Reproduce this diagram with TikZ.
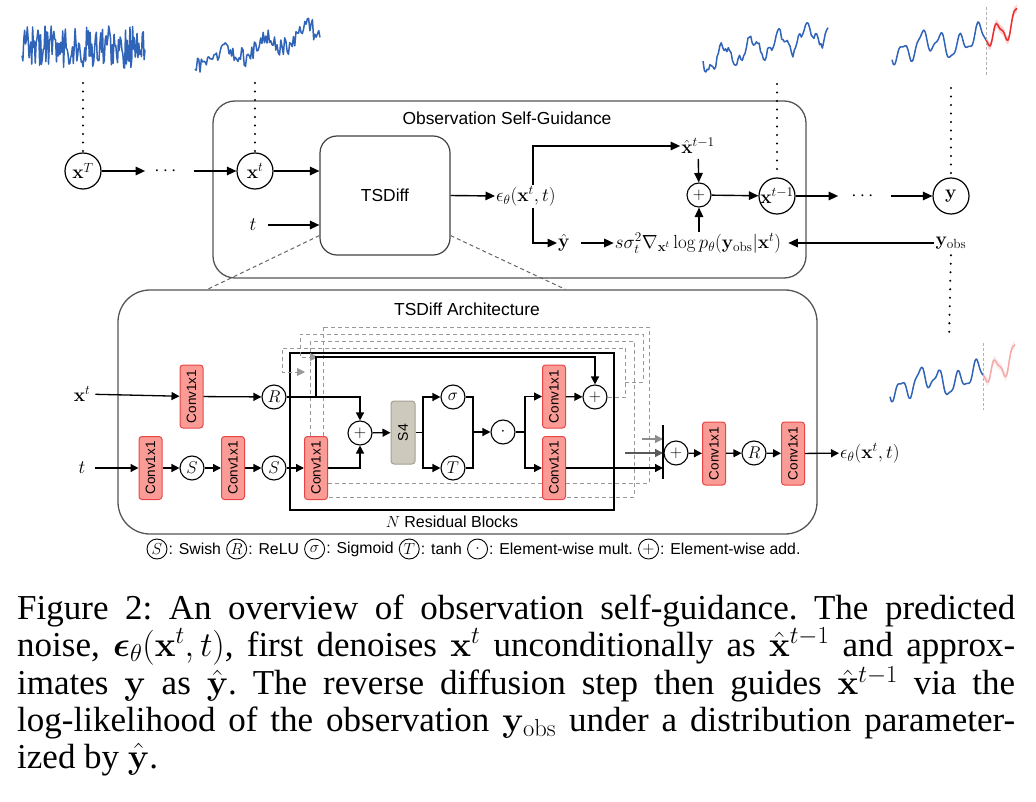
\RequirePackage{fix-cm}
\documentclass[tikz,border=0pt]{standalone}
\usepackage{amsmath}
\usepackage{amssymb}
\usepackage[no-math]{fontspec}
\newfontfamily\sfl{Liberation Sans}
\newfontfamily\capfont{Liberation Serif}
\usetikzlibrary{
  arrows.meta,
  positioning
}
\definecolor{convfill}{RGB}{250,155,150}
\definecolor{convline}{RGB}{232,70,70}
\definecolor{s4fill}{RGB}{205,201,189}
\definecolor{s4line}{RGB}{165,160,145}
\definecolor{tsblue}{RGB}{48,100,184}
\definecolor{tsred}{RGB}{235,45,45}
\definecolor{tsredlight}{RGB}{245,170,170}
\definecolor{boxgray}{RGB}{85,85,85}
\newcommand{\convtxt}{\rotatebox{90}{Conv1x1}}
\pgfmathdeclarefunction{obsf}{1}{\pgfmathparse{-0.1*#1+10*sin(19*#1+60)+6*sin(7*#1+20)+3*sin(41*#1)}}

\begin{document}
\begin{tikzpicture}[x=1pt, y=-1pt,
  >={Triangle[length=9.5pt,width=8.5pt]},
  conn/.style={->, line width=1.4pt},
  lbl/.style={font=\sfl\fontsize{17.4}{20}\selectfont},
  mth/.style={font=\fontsize{19}{22}\selectfont, inner sep=1pt},
  varnode/.style={circle, draw, line width=1.2pt, fill=white,
    minimum size=36pt, inner sep=0pt, font=\fontsize{19}{22}\selectfont},
  opnode/.style={circle, draw, line width=1.1pt, fill=white,
    minimum size=24pt, inner sep=0pt, font=\fontsize{17}{20}\selectfont},
  convbox/.style={draw=convline, fill=convfill, line width=1pt,
    rounded corners=3pt, minimum width=23pt, minimum height=63pt,
    inner sep=0pt, font=\sfl\fontsize{13.5}{16}\selectfont},
  s4box/.style={draw=s4line, fill=s4fill, line width=1pt,
    rounded corners=3pt, minimum width=24pt, minimum height=63pt,
    inner sep=0pt, font=\sfl\fontsize{14}{16}\selectfont},
  ghost/.style={draw=black!40, line width=1pt, dash pattern=on 4pt off 3pt},
  linkdash/.style={draw=black!60, line width=1pt, dash pattern=on 4pt off 3pt},
  dotline/.style={line width=2.3pt, line cap=round, dash pattern=on 0pt off 8.5pt},
  series/.style={draw=tsblue, line width=1.5pt, line join=round},
  legcirc/.style={circle, draw, line width=0.9pt, minimum size=20pt,
    inner sep=0pt, font=\fontsize{16}{18}\selectfont},
  legtxt/.style={inner xsep=1pt, inner ysep=0pt, font=\sfl\fontsize{15.8}{18}\selectfont}]
\useasboundingbox (0,0) rectangle (1036,802);

% time series
\pgfmathsetseed{3}
\draw[series] plot[domain=22:145, samples=140] (\x, {47+21*rand});
\draw[series] plot[domain=0:125, samples=100] (\x+195, {62-0.25*\x+8*sin(9*\x)+10*rand});
\draw[series] plot[domain=0:125, samples=90] (\x+703, {62-0.25*\x+10*sin(13*\x)+5*sin(37*\x)+3*rand});
\begin{scope}[shift={(892,49)}]
  \fill[tsred!35, opacity=.6] plot[smooth, domain=94:125, samples=25] (\x, {obsf(\x)-0.7*(\x-94)-4})
    -- plot[smooth, domain=125:94, samples=25] (\x, {obsf(\x)-0.7*(\x-94)+4}) -- cycle;
  \draw[series] plot[smooth, domain=0:94, samples=60] (\x, {obsf(\x)});
  \draw[series, draw=tsred] plot[smooth, domain=94:125, samples=25] (\x, {obsf(\x)-0.7*(\x-94)});
  \draw[black!30, line width=0.8pt, dash pattern=on 3pt off 2pt] (94,-42) -- (94,26);
\end{scope}
\begin{scope}[shift={(890,386)}]
  \fill[tsred!15, opacity=.6] plot[smooth, domain=93:125, samples=25] (\x, {obsf(\x)-0.7*(\x-93)-4})
    -- plot[smooth, domain=125:93, samples=25] (\x, {obsf(\x)-0.7*(\x-93)+4}) -- cycle;
  \draw[series] plot[smooth, domain=0:93, samples=60] (\x, {obsf(\x)});
  \draw[series, draw=tsredlight] plot[smooth, domain=93:125, samples=25] (\x, {obsf(\x)-0.7*(\x-93)});
  \draw[black!30, line width=0.8pt, dash pattern=on 3pt off 2pt] (93,-43) -- (93,24);
\end{scope}

% observation self-guidance
\node[draw=boxgray, line width=1.3pt, rounded corners=22pt, minimum width=593pt,
  minimum height=177pt] (sgbox) at (509.5,189.5) {};
\node[lbl] (sgtitle) at (507,118) {Observation Self-Guidance};
\node[varnode] (xT) at (83,171) {$\mathbf{x}^T$};
\node[mth] (dots1) at (167,171) {$\cdots$};
\node[varnode] (xt) at (255,171) {$\mathbf{x}^t$};
\node[draw=black!75, line width=1.2pt, rounded corners=17pt, minimum width=130pt,
  minimum height=119pt, lbl] (tsd) at (385,195.5) {TSDiff};
\node[mth] (tin) at (253,225) {$t$};
\node[mth, anchor=west] (eps) at (495,196) {$\epsilon_\theta(\mathbf{x}^t,t)$};
\node[mth] (xhat) at (698,146) {$\hat{\mathbf{x}}^{t-1}$};
\node[opnode] (addtop) at (699,195) {$+$};
\node[varnode] (xtm) at (777,196) {\makebox[20pt]{$\mathbf{x}^{t-1}$}};
\node[mth] (dots2) at (864,196) {$\cdots$};
\node[varnode] (yv) at (951,196) {$\mathbf{y}$};
\node[mth] (yhat) at (564,243) {$\hat{\mathbf{y}}$};
\node[mth] (guide) at (698,243) {$s\sigma_t^2\nabla_{\mathbf{x}^t}\log p_\theta(\mathbf{y}_{\mathrm{obs}}|\mathbf{x}^t)$};
\node[mth] (yobs) at (951,243) {$\mathbf{y}_{\mathrm{obs}}$};
\coordinate (epsN) at (533,185);
\coordinate (epsS) at (533,208);

\coordinate (d1) at (83,83);
\coordinate (d2) at (255,83);
\coordinate (d3) at (777,84);
\coordinate (d4) at (951,88);
\coordinate (d5) at (949,340);
\draw[dotline] (d1) -- (xT.north);
\draw[dotline] (d2) -- (xt.north);
\draw[dotline] (d3) -- (xtm.north);
\draw[dotline] (d4) -- (yv.north);
\draw[dotline, shorten <=5pt] (yobs.south) -- (d5);

\draw[conn, shorten >=8pt] (xT) -- (dots1);
\draw[conn, shorten <=13pt] (dots1) -- (xt);
\draw[conn] (xt.east) -- (xt.east -| tsd.west);
\draw[conn, shorten <=10pt] (tin) -- (tin -| tsd.west);
\draw[conn] (tsd.east) -- (eps.west);
\draw[conn] (epsN) |- (xhat.west);
\draw[conn] (epsS) |- (yhat.west);
\draw[conn, shorten <=10pt] (yhat) -- (guide);
\draw[conn, shorten <=4pt] (xhat) -- (addtop);
\draw[conn] (guide.north -| addtop) -- (addtop);
\draw[conn] (addtop) -- (xtm);
\draw[conn, shorten >=12pt] (xtm) -- (dots2);
\draw[conn, shorten <=13pt] (dots2) -- (yv);
\draw[conn, shorten >=6pt] (yobs) -- (guide);

% architecture
\node[draw=boxgray, line width=1.3pt, rounded corners=32pt, minimum width=699pt,
  minimum height=244pt] (arch) at (467.5,412) {};
\node[lbl] (archtitle) at (467,309) {TSDiff Architecture};
\draw[linkdash] ([yshift=20pt]tsd.south west) -- ([xshift=90pt]arch.north west);
\draw[linkdash] ([yshift=20pt]tsd.south east) -- ([xshift=448pt]arch.north west);

\begin{scope}[>={Triangle[length=8pt,width=8pt]}, conn/.style={->, line width=1.3pt}]
% stacked blocks behind
\draw[ghost] (310,341) rectangle (634,497);
\draw[ghost] (323,327) rectangle (649,483);
\node[draw, line width=1.8pt, minimum width=324pt, minimum height=157pt] (resblk) at (452,431.5) {};
\node[font=\sfl\fontsize{16}{18}\selectfont] (nres) at (452,522) {$N$ Residual Blocks};

\node[mth] (xin) at (82,394) {$\mathbf{x}^t$};
\node[mth] (tin2) at (82,468) {$t$};
\node[convbox] (cA) at (191.5,396.5) {\convtxt};
\node[opnode] (rA) at (274,397) {$R$};
\node[convbox] (cB) at (150.5,468) {\convtxt};
\node[opnode] (sA) at (192,468) {$S$};
\node[convbox] (cC) at (233,468) {\convtxt};
\node[opnode] (sB) at (274,468) {$S$};
\node[convbox] (cD) at (316,468) {\convtxt};
\node[opnode] (add1) at (360,433) {$+$};
\node[s4box] (s4) at (403,432.5) {\rotatebox{90}{S4}};
\node[opnode] (sig) at (453,397) {$\sigma$};
\node[opnode] (tanh) at (453,468) {$T$};
\node[opnode] (mul) at (503,432) {$\cdot$};
\node[convbox] (cE) at (554,396.5) {\convtxt};
\node[convbox] (cF) at (554,468) {\convtxt};
\node[opnode] (add2) at (595,397) {$+$};
\node[opnode] (add3) at (676,453) {$+$};
\node[convbox] (cG) at (714,453.5) {\convtxt};
\node[opnode] (rB) at (754,453) {$R$};
\node[convbox] (cH) at (793,453.5) {\convtxt};
\node[mth, anchor=west] (epsout) at (839,453) {$\epsilon_\theta(\mathbf{x}^t,t)$};

\coordinate (skipTop) at (316,357);
\coordinate (sp1) at (423,432.5);
\coordinate (jn) at (473,432);
\coordinate (sp2) at (525,432);
\coordinate (bartop) at (663,425);
\coordinate (barbot) at (663,479);
\coordinate (g1) at (305,372);
\coordinate (g2s) at (625,382);
\coordinate (g2) at (318,357);
\coordinate (g3) at (625,453);
\coordinate (g4) at (642,439);

\draw[ghost, ->] (add2.east) -- ++(18,0) |- (282,348) |- (g1);
\draw[ghost, ->] (g2s) -- ++(18,0) |- (300,334) |- (g2);

\draw[conn, shorten <=4pt] (xin) -- (cA);
\draw[conn] (cA) -- (rA);
\draw[conn, shorten <=8pt] (tin2) -- (cB);
\draw[conn] (cB) -- (sA);
\draw[conn] (sA) -- (cC);
\draw[conn] (cC) -- (sB);
\draw[conn] (sB) -- (cD);
\draw[conn] (rA.east) -| (skipTop) -| (add2);
\draw[conn] (rA.east) -| (add1);
\draw[conn] (cD) -| (add1);
\draw[conn] (add1) -- (s4);
\draw[line width=1.3pt] (s4) -- (sp1);
\draw[conn] (sp1) |- (sig);
\draw[conn] (sp1) |- (tanh);
\draw[line width=1.3pt] (sig) -| (jn);
\draw[line width=1.3pt] (tanh) -| (jn);
\draw[conn] (jn) -- (mul);
\draw[line width=1.3pt] (mul) -- (sp2);
\draw[conn] (sp2) |- (cE);
\draw[conn] (sp2) |- (cF);
\draw[conn] (cE) -- (add2);
\draw[conn] (cF) -- (cF -| bartop);
\draw[conn, draw=black!65] (g3) -- (g3 -| bartop);
\draw[conn, draw=black!45] (g4) -- (g4 -| bartop);
\draw[line width=1.5pt] (bartop) -- (barbot);
\draw[conn] (add3) -- (cG);
\draw[conn] (cG) -- (rB);
\draw[conn] (rB) -- (cH);
\draw[conn] (cH) -- (epsout);
\end{scope}

% legend
\node[legcirc] (lS) at (157,549) {$S$};
\node[legtxt, right=0pt of lS] (lSt) {: Swish};
\node[legcirc, right=4pt of lSt] (lR) {$R$};
\node[legtxt, right=0pt of lR] (lRt) {: ReLU};
\node[legcirc, right=4pt of lRt] (lsig) {$\sigma$};
\node[legtxt, right=0pt of lsig] (lsigt) {: Sigmoid};
\node[legcirc, right=4pt of lsigt] (lT) {$T$};
\node[legtxt, right=0pt of lT] (lTt) {: tanh};
\node[legcirc, right=4pt of lTt] (lmul) {$\cdot$};
\node[legtxt, right=0pt of lmul] (lmult) {: Element-wise mult.};
\node[legcirc, right=4pt of lmult] (ladd) {$+$};
\node[legtxt, right=0pt of ladd] (laddt) {: Element-wise add.};

% caption
\node[anchor=north west, inner sep=0pt, text width=998pt, align=justify,
  font=\capfont\fontsize{35}{36.75}\selectfont\frenchspacing] (cap) at (17,595)
  {Figure 2: An overview of observation self-guidance. The predicted\linebreak
  noise, $\boldsymbol{\epsilon}_\theta(\mathbf{x}^t,t)$, first denoises $\mathbf{x}^t$ unconditionally as $\hat{\mathbf{x}}^{t-1}$ and approx-\linebreak
  imates $\mathbf{y}$ as $\hat{\mathbf{y}}$. The reverse diffusion step then guides $\hat{\mathbf{x}}^{t-1}$ via the\linebreak
  log-likelihood of the observation $\mathbf{y}_{\mathrm{obs}}$ under a distribution parameter-\linebreak
  ized by $\hat{\mathbf{y}}$.};
\end{tikzpicture}
\end{document}
